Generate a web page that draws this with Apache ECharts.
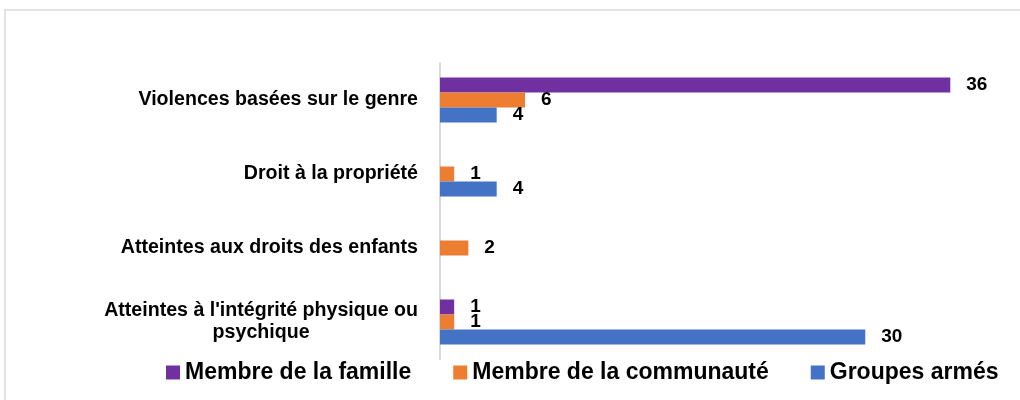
<!DOCTYPE html>
<html>
<head>
<meta charset="utf-8">
<script src="https://cdn.jsdelivr.net/npm/echarts@6/dist/echarts.min.js"></script>
<style>
  html, body { margin: 0; padding: 0; background: #fff; }
  #chart { width: 1020px; height: 400px; }
</style>
</head>
<body>
<div id="chart"></div>
<script>
// categories, top to bottom
const categories = [
  'Violences basées sur le genre',
  'Droit à la propriété',
  'Atteintes aux droits des enfants',
  "Atteintes à l'intégrité physique ou\npsychique"
]
const famille = [36, null, null, 1]
const communaute = [6, 1, 2, 1]
const groupesArmes = [4, 4, null, 30]

const font = '"Liberation Sans", Arial, sans-serif'

const myChart = echarts.init(document.getElementById('chart'))

function barSeries (name, color, data) {
  return {
    name: name,
    type: 'bar',
    barWidth: 15,
    barGap: '0%',
    itemStyle: { color: color },
    label: {
      show: true,
      position: 'right',
      distance: 16,
      color: '#000',
      fontFamily: font,
      fontWeight: 'bold',
      fontSize: 19
    },
    data: data
  }
}

const option = {
  animation: false,
  backgroundColor: '#fff',
  graphic: [{
    type: 'rect',
    shape: { x: 5, y: 10, width: 1030, height: 400 },
    style: { fill: 'none', stroke: '#d9d9d9', lineWidth: 1.5 },
    silent: true
  }],
  grid: {
    left: 440,
    right: 13,
    top: 63,
    height: 296
  },
  legend: {
    left: 161,
    top: 356,
    itemWidth: 14,
    itemHeight: 14,
    itemGap: 42,
    icon: 'rect',
    textStyle: {
      color: '#000',
      fontFamily: font,
      fontWeight: 'bold',
      fontSize: 23
    },
    data: ['Membre de la famille', 'Membre de la communauté', 'Groupes armés']
  },
  xAxis: {
    type: 'value',
    min: 0,
    max: 40,
    show: false
  },
  yAxis: {
    type: 'category',
    inverse: true,
    data: categories,
    axisLine: { show: true, lineStyle: { color: '#d9d9d9', width: 2 } },
    axisTick: { show: false },
    axisLabel: {
      margin: 22,
      formatter: function (v) {
        return v.split('\n').map(s => '{c|' + s + '}').join('\n')
      },
      rich: {
        c: {
          align: 'center',
          color: '#000',
          fontFamily: font,
          fontWeight: 'bold',
          fontSize: 19.6,
          lineHeight: 22
        }
      }
    }
  },
  series: [
    barSeries('Membre de la famille', '#7030a0', famille),
    barSeries('Membre de la communauté', '#ed7d31', communaute),
    barSeries('Groupes armés', '#4472c4', groupesArmes)
  ]
}

myChart.setOption(option)
</script>
</body>
</html>
